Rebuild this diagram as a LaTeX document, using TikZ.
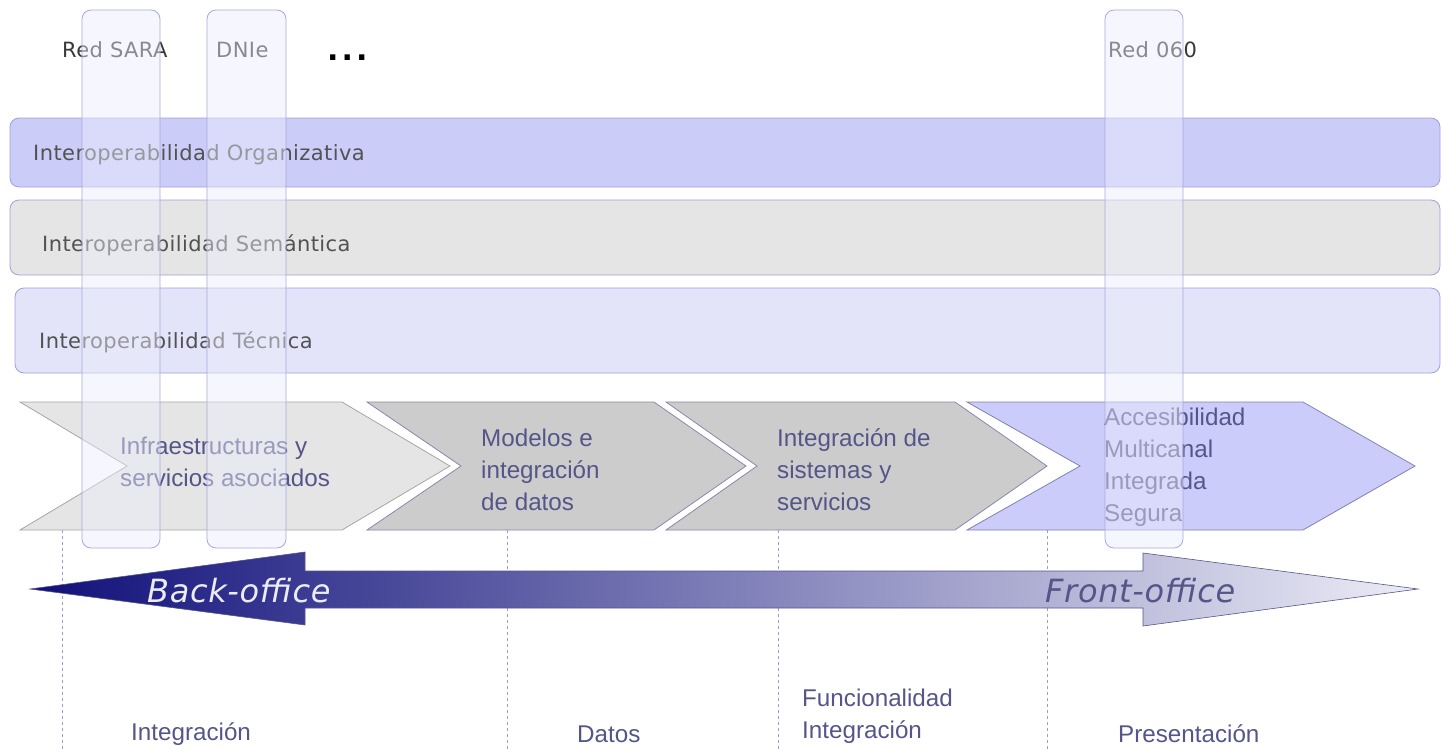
\documentclass[tikz,border=0pt]{standalone}
\usepackage{fontspec}
\setmainfont{Liberation Sans}
\newfontfamily\verafont[LetterSpace=2]{DejaVu Sans}
\usetikzlibrary{positioning}

\definecolor{bandlila}{HTML}{CCCCF9}
\definecolor{bandgris}{HTML}{E5E5E5}
\definecolor{bandclaro}{HTML}{E3E3FA}
\definecolor{bordelila}{HTML}{A0A0DC}
\definecolor{bordepilar}{HTML}{A8A8DD}
\definecolor{pilar}{HTML}{ECEEFC}
\definecolor{guia}{HTML}{9C9CD0}
\definecolor{textoazul}{HTML}{55558A}
\definecolor{chevgris}{HTML}{CCCCCC}
\definecolor{chevlila}{HTML}{CCCCFA}
\definecolor{flechaosc}{HTML}{10107A}
\definecolor{flechaclara}{HTML}{ECECF6}

\begin{document}
\begin{tikzpicture}[
        x=1pt, y=-1pt,
        band/.style={draw=bordelila, line width=0.8pt, rounded corners=9pt},
        pillar/.style={draw=bordepilar, line width=0.8pt, fill=pilar, fill opacity=0.45, rounded corners=9pt},
        chevron/.style={line width=0.8pt},
        guide/.style={draw=guia, line width=0.6pt, dash pattern=on 3pt off 3pt},
        bandlabel/.style={anchor=west, inner sep=0pt, text=black!68, font=\verafont\fontsize{21}{24}\selectfont},
        toplabel/.style={anchor=west, inner sep=0pt, text=black!78, font=\verafont\fontsize{21}{24}\selectfont},
        steplabel/.style={anchor=west, inner sep=0pt, align=left, text=textoazul, font=\fontsize{24.2}{32}\selectfont},
        officelabel/.style={anchor=west, inner sep=0pt, font=\verafont\itshape\fontsize{32}{36}\selectfont},
    ]
    \useasboundingbox (0,0) rectangle (1441,750);

    % Dotted guides down to the bottom labels
    \foreach \name/\x in {integ/62, datos/507, func/778, pres/1047}
        \draw[guide] (\x,530) coordinate (g-\name) -- (\x,750);

    % Interoperability bands
    \draw[band, fill=bandlila] (10,118) rectangle (1440,187);
    \node[bandlabel] (org) at (33,155) {Interoperabilidad Organizativa};
    \draw[band, fill=bandgris] (10,200) rectangle (1440,275);
    \node[bandlabel] (sem) at (42,245) {Interoperabilidad Semántica};
    \draw[band, fill=bandclaro] (15,288) rectangle (1440,373);
    \node[bandlabel] (tec) at (39,342) {Interoperabilidad Técnica};

    % Chevrons
    \filldraw[chevron, fill=bandgris, draw=black!35] (20,402) -- (342,402) -- (450,466) -- (342,530) -- (20,530) -- (127,466) -- cycle;
    \filldraw[chevron, fill=chevgris, draw=textoazul!70] (367,402) -- (654,402) -- (746,466) -- (654,530) -- (367,530) -- (461,466) -- cycle;
    \filldraw[chevron, fill=chevgris, draw=textoazul!70] (666,402) -- (955,402) -- (1047,466) -- (955,530) -- (666,530) -- (757,466) -- cycle;
    \filldraw[chevron, fill=chevlila, draw=bordelila!80!black] (967,402) -- (1303,402) -- (1415,466) -- (1303,530) -- (967,530) -- (1080,466) -- cycle;

    \node[steplabel] (infra) at (120,462) {Infraestructuras y\\servicios asociados};
    \node[steplabel] (modelos) at (481,470) {Modelos e\\integración\\de datos};
    \node[steplabel] (sistemas) at (777,470) {Integración de\\sistemas y\\servicios};
    \node[steplabel] (acceso) at (1104,467) {Accesibilidad\\Multicanal\\Integrada\\Segura};

    % Back-office / Front-office arrow
    \path[draw=textoazul, line width=0.6pt, left color=flechaosc, right color=flechaclara]
        (30,589) -- (305,552) -- (305,571) -- (1143,571) -- (1143,553) -- (1418,589)
        -- (1143,626) -- (1143,608) -- (305,608) -- (305,625) -- cycle;
    \node[officelabel, text=flechaclara] (back) at (147,591) {Back-office};
    \node[officelabel, text=textoazul] (front) at (1045,591) {Front-office};

    % Bottom labels
    \node[steplabel] (l-integ) at (131,734) {Integración};
    \node[steplabel] (l-datos) at (577,734) {Datos};
    \node[steplabel] (l-func) at (802,716) {Funcionalidad\\Integración};
    \node[steplabel] (l-pres) at (1118,734) {Presentación};

    % Pillars and their labels
    \node[toplabel] (sara) at (62,50) {Red SARA};
    \node[toplabel] (dnie) at (216,50) {DNIe};
    \node[toplabel] (red060) at (1108,50) {Red 060};
    \node[anchor=west, inner sep=0pt, font=\verafont\bfseries\fontsize{30}{32}\selectfont] (dots) at (327,58) {.\kern3pt.\kern3pt.};
    \draw[pillar] (82,10) rectangle (160,548);
    \draw[pillar] (207,10) rectangle (286,548);
    \draw[pillar] (1105,10) rectangle (1183,548);
\end{tikzpicture}
\end{document}
